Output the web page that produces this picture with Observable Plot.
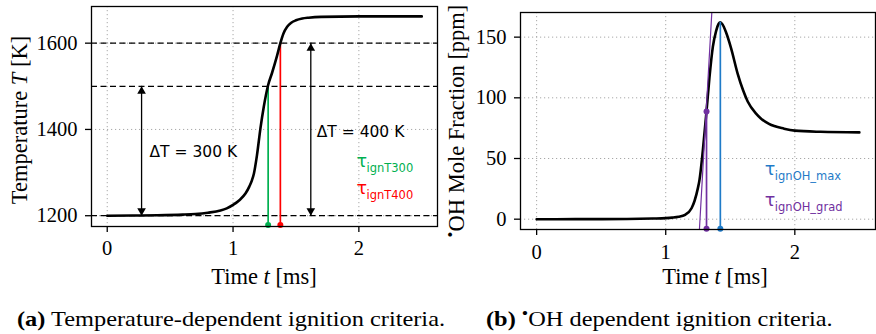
<!DOCTYPE html>
<html>
<head>
<meta charset="utf-8">
<script src="https://cdn.jsdelivr.net/npm/d3@7"></script>
<script src="https://cdn.jsdelivr.net/npm/@observablehq/plot@0.6"></script>
<style>
  html, body { margin: 0; padding: 0; background: white; }
  #wrap { position: relative; width: 876px; height: 334px; overflow: hidden; font-family: "Liberation Serif", serif; color: black; }
  .panel { position: absolute; top: 0; }
  .lbl { position: absolute; white-space: nowrap; font-size: 22.5px; line-height: 22px; }
  .ylbl { transform: translate(-50%, -50%) rotate(-90deg); }
  .xlbl { transform: translate(-50%, -50%); }
  .cap { position: absolute; white-space: nowrap; font-size: 21px; line-height: 20px; top: 309px; transform: scaleX(1.16); transform-origin: left center; }
  sup.rad { font-size: 0.75em; vertical-align: 0.45em; line-height: 0; }
</style>
</head>
<body>
<div id="wrap">
  <div id="left" class="panel" style="left:0px"></div>
  <div id="right" class="panel" style="left:440px"></div>
  <div class="lbl ylbl" style="left:20px; top:120px">Temperature <i>T</i> [K]</div>
  <div class="lbl xlbl" style="left:264px; top:277px">Time <i>t</i> [ms]</div>
  <div class="lbl ylbl" style="left:457px; top:121px"><sup class="rad">•</sup>OH Mole Fraction [ppm]</div>
  <div class="lbl xlbl" style="left:715px; top:277px">Time <i>t</i> [ms]</div>
  <div class="cap" style="left:17px"><b>(a)</b> Temperature-dependent ignition criteria.</div>
  <div class="cap" style="left:486px"><b>(b)</b> <sup class="rad">•</sup>OH dependent ignition criteria.</div>
</div>
<script>
// ---------- data: temperature trace ----------
const tempTime = [0, 0.2, 0.4, 0.6, 0.7, 0.8, 0.9, 0.95, 1.0, 1.05, 1.1, 1.13, 1.15, 1.166, 1.19, 1.218, 1.244, 1.279, 1.311, 1.35, 1.376, 1.40, 1.43, 1.46, 1.5, 1.55, 1.6, 1.7, 2.0, 2.25, 2.5];
const tempK    = [1200, 1200.5, 1201, 1202.5, 1204, 1207, 1212, 1217, 1225, 1236, 1252, 1268, 1282, 1298, 1340, 1403, 1452, 1503, 1532, 1571, 1600, 1622, 1638, 1647, 1653, 1657, 1659, 1661, 1662, 1662, 1662];

// ---------- data: OH trace ----------
const ohTime = [0, 0.3, 0.5, 0.7, 0.8, 0.9, 1.0, 1.05, 1.1, 1.15, 1.2, 1.223, 1.25, 1.261, 1.287, 1.316, 1.339, 1.365, 1.39, 1.41, 1.423, 1.44, 1.467, 1.506, 1.557, 1.6, 1.635, 1.7, 1.737, 1.8, 1.917, 2.0, 2.2, 2.5];
const ohPpm  = [0, 0.02, 0.05, 0.15, 0.3, 0.55, 0.9, 1.3, 2.0, 3.6, 9, 15, 26, 32, 56, 89, 117, 142, 155, 161, 162.3, 160.5, 154, 141, 120, 106, 97, 87, 83, 78.5, 74.6, 73, 72, 71.5];

// ---------- temperature criteria ----------
const thresholdsK   = [1200, 1500, 1600];
const arrowTime     = [0.273, 1.618];
const arrowFromK    = [1200, 1200];
const arrowToK      = [1500, 1600];
const deltaText     = ["ΔT = 300 K", "ΔT = 400 K"];
const deltaTextTime = [0.336, 1.665];
const deltaTextK    = [1337, 1382];
const tIgnNames     = ["ignT300", "ignT400"];
const tIgnTime      = [1.279, 1.376];
const tIgnK         = [1500, 1600];
const tIgnColors    = ["#00b050", "#ff0000"];
const tLabelTime    = [1.981, 1.981];
const tLabelK       = [1313, 1251];
const tBaseK        = 1178.5;

// ---------- OH criteria ----------
const ohIgnNames  = ["ignOH_max", "ignOH_grad"];
const ohIgnTime   = [1.423, 1.316];
const ohIgnPpm    = [162.3, 88.8];
const ohIgnColors = ["#1f7bc8", "#7030a0"];
const ohLabelTime = [1.768, 1.768];
const ohLabelPpm  = [36.2, 10.7];
const ohBasePpm   = -7.8;
const tangentTime = [1.25, 1.37];
const tangentPpm  = [-29, 194.5];

// ---------- tick labels ----------
const xTicks = [0, 1, 2];
const tempTicks = [1200, 1400, 1600];
const ohTicks = [0, 50, 100, 150];

// ---------- build tables ----------
const tempData = tempTime.map((t, i) => ({t, v: tempK[i]}));
const ohData = ohTime.map((t, i) => ({t, v: ohPpm[i]}));
const arrows = arrowTime.map((t, i) => ({t, y1: arrowFromK[i], y2: arrowToK[i]}));
const deltas = deltaText.map((s, i) => ({s, t: deltaTextTime[i], v: deltaTextK[i]}));
const tIgn = tIgnNames.map((n, i) => ({n, t: tIgnTime[i], v: tIgnK[i], c: tIgnColors[i], lt: tLabelTime[i], lv: tLabelK[i]}));
const ohIgn = ohIgnNames.map((n, i) => ({n, t: ohIgnTime[i], v: ohIgnPpm[i], c: ohIgnColors[i], lt: ohLabelTime[i], lv: ohLabelPpm[i]}));
const tangent = tangentTime.map((t, i) => ({t, v: tangentPpm[i]}));

const sans = "DejaVu Sans";
const gridStyle = {stroke: "#a8a8a8", strokeOpacity: 1, strokeWidth: 1, strokeDasharray: "1.2,2.8"};
const fmt = d3.format("d");
const style = {fontFamily: "Liberation Serif", fontSize: "20.5px", background: "white", color: "black"};

const left = Plot.plot({
  width: 440, height: 290,
  marginLeft: 91, marginRight: 3, marginTop: 6, marginBottom: 64,
  style,
  x: {domain: [-0.125, 2.625]},
  y: {domain: [1175, 1685]},
  marks: [
    Plot.gridX(xTicks, gridStyle),
    Plot.gridY(tempTicks, gridStyle),
    Plot.ruleY(thresholdsK, {stroke: "black", strokeWidth: 1.2, strokeDasharray: "6,3.5"}),
    Plot.ruleX(tIgn, {x: "t", y1: () => tBaseK, y2: "v", stroke: "c", strokeWidth: 1.7}),
    Plot.line(tempData, {x: "t", y: "v", stroke: "black", strokeWidth: 2.6, curve: "monotone-x"}),
    Plot.ruleX(arrows, {x: "t", y1: "y1", y2: "y2", stroke: "black", strokeWidth: 1.3}),
    Plot.dot(arrows, {x: "t", y: "y2", symbol: "triangle", r: 3.2, fill: "black", stroke: null, dy: 5}),
    Plot.dot(arrows, {x: "t", y: "y1", symbol: "triangle", r: 3.2, fill: "black", stroke: null, rotate: 180, dy: -5}),
    Plot.dot(tIgn, {x: "t", y: () => tBaseK, fill: "c", r: 3, stroke: null}),
    Plot.text(deltas, {x: "t", y: "v", text: "s", textAnchor: "start", lineAnchor: "bottom", fontFamily: sans, fontSize: 15.5, fill: "black"}),
    Plot.text(tIgn, {x: "lt", y: "lv", text: () => "τ", textAnchor: "start", lineAnchor: "bottom", fontFamily: sans, fontSize: 17.5, fill: "c"}),
    Plot.text(tIgn, {x: "lt", y: "lv", text: "n", textAnchor: "start", lineAnchor: "bottom", fontFamily: sans, fontSize: 11.5, fill: "c", dx: 10, dy: 5}),
    Plot.frame({stroke: "black", strokeWidth: 1.3}),
    Plot.axisX({ticks: xTicks, tickSize: 6, tickPadding: 8, tickFormat: fmt, label: null, strokeWidth: 1.3}),
    Plot.axisY({ticks: tempTicks, tickSize: 6, tickPadding: 8, tickFormat: fmt, label: null, strokeWidth: 1.3})
  ]
});
document.getElementById("left").appendChild(left);

const right = Plot.plot({
  width: 436, height: 290,
  marginLeft: 80, marginRight: 1, marginTop: 12, marginBottom: 61,
  style,
  x: {domain: [-0.125, 2.625]},
  y: {domain: [-8.5, 170.3]},
  marks: [
    Plot.gridX(xTicks, gridStyle),
    Plot.gridY(ohTicks, gridStyle),
    Plot.line(ohData, {x: "t", y: "v", stroke: "black", strokeWidth: 2.6, curve: "monotone-x"}),
    Plot.ruleX(ohIgn, {x: "t", y1: () => ohBasePpm, y2: "v", stroke: "c", strokeWidth: 1.7}),
    Plot.line(tangent, {x: "t", y: "v", stroke: "#7030a0", strokeWidth: 1.2, clip: true}),
    Plot.dot(ohIgn, {x: "t", y: () => ohBasePpm, fill: "c", r: 3, stroke: null}),
    Plot.dot(ohIgn.filter(d => d.n === "ignOH_grad"), {x: "t", y: "v", fill: "c", r: 3, stroke: null}),
    Plot.text(ohIgn, {x: "lt", y: "lv", text: () => "τ", textAnchor: "start", lineAnchor: "bottom", fontFamily: sans, fontSize: 17.5, fill: "c"}),
    Plot.text(ohIgn, {x: "lt", y: "lv", text: "n", textAnchor: "start", lineAnchor: "bottom", fontFamily: sans, fontSize: 11.5, fill: "c", dx: 10, dy: 5}),
    Plot.frame({stroke: "black", strokeWidth: 1.3}),
    Plot.axisX({ticks: xTicks, tickSize: 6, tickPadding: 9, tickFormat: fmt, label: null, strokeWidth: 1.3}),
    Plot.axisY({ticks: ohTicks, tickSize: 6, tickPadding: 8, tickFormat: fmt, label: null, strokeWidth: 1.3})
  ]
});
document.getElementById("right").appendChild(right);
</script>
</body>
</html>
